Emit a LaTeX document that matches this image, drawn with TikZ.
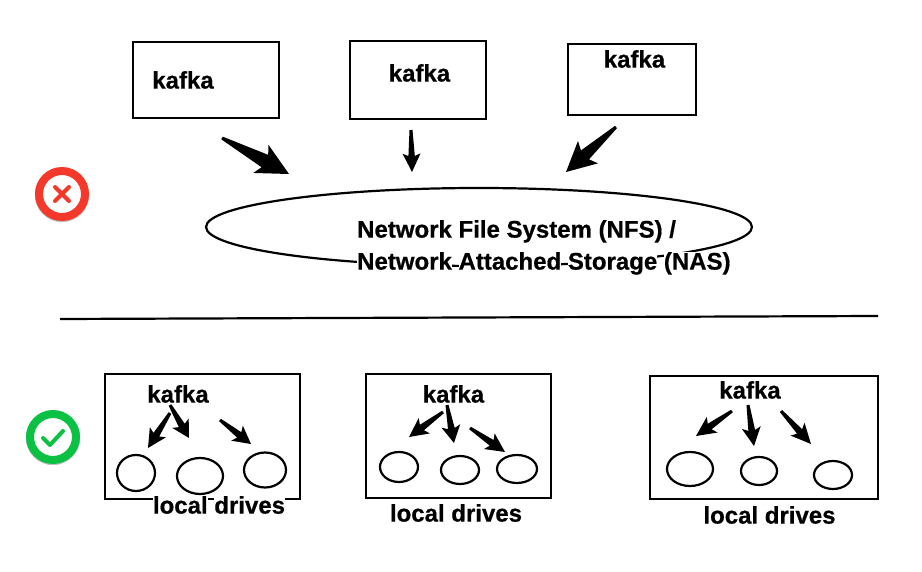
\documentclass[tikz,border=0pt]{standalone}
\usepackage{fontspec}
\setmainfont{Liberation Sans}[BoldFeatures={FakeBold=0.6}]
\usetikzlibrary{calc,shapes.geometric}
\setlength{\fboxsep}{0pt}
\newcommand{\hw}[1]{\colorbox{white}{#1}}
\newcommand{\tarrow}[6]{% tail, tip, barb fraction, barb half width, notch fraction, shaft half width
  \fill[black] ($(#1)!1.5pt!90:(#2)$)
    -- ($(#1)!#5!(#2)!#6pt!90:(#2)$)
    -- ($(#1)!#3!(#2)!#4pt!90:(#2)$)
    -- (#2)
    -- ($(#1)!#3!(#2)!#4pt!-90:(#2)$)
    -- ($(#1)!#5!(#2)!#6pt!-90:(#2)$)
    -- ($(#1)!1.5pt!-90:(#2)$) -- cycle;}
\tikzset{
  x=1pt,y=-1pt,
  boxnode/.style={draw=black,line width=2.4pt,fill=none,inner sep=0pt,minimum width=#1},
  drive/.style={draw=black,line width=2.2pt,ellipse,inner sep=0pt},
  lab/.style={font=\fontsize{24}{32}\selectfont\bfseries,inner sep=0pt,text=black},
  ringnode/.style={circle,inner sep=0pt,minimum size=46pt,line width=8pt,fill=white},
  shade/.style={circle,fill=black!25,draw=white,line width=1.5pt,inner sep=0pt,minimum size=55pt}
}
\begin{document}
\begin{tikzpicture}
\useasboundingbox (0,0) rectangle (922,572);
% top boxes
\node[boxnode=146pt,minimum height=76pt] (t1) at (206,80) {};
\node[boxnode=136pt,minimum height=78pt] (t2) at (418,80) {};
\node[boxnode=128pt,minimum height=71pt] (t3) at (632,79.5) {};
\node[lab] (tk1) at (183,80) {kafka};
\node[lab] (tk2) at (419.5,73) {kafka};
\node[lab] (tk3) at (634.5,59) {kafka};
% NFS ellipse
\node[draw=black,line width=2.2pt,ellipse,minimum width=546pt,minimum height=78pt,inner sep=0pt] (nfs) at (479,227) {};
\node[lab,align=left,anchor=north west] (nfstext) at (357,220)
  {\hw{Network} \hw{File} \hw{System} \hw{(NFS)} \hw{/}\\\hw{Network} \hw{Attached} \hw{Storage} \hw{(NAS)}};
% top arrows
\coordinate (a1s) at (222,138); \coordinate (a1e) at (289,174);
\coordinate (a2s) at (411,130); \coordinate (a2e) at (412,172);
\coordinate (a3s) at (616,127); \coordinate (a3e) at (566,172);
\tarrow{a1s}{a1e}{.58}{16}{.64}{7}
\tarrow{a2s}{a2e}{.56}{9}{.62}{3.2}
\tarrow{a3s}{a3e}{.56}{15}{.62}{6}
% divider
\coordinate (d1) at (60,319); \coordinate (d2) at (878,316);
\draw[line width=2.2pt] (d1) -- (d2);
% icons
\node[shade,minimum size=56pt] (xs) at (62,195) {};
\node[ringnode,draw={rgb,255:red,244;green,57;blue,42}] (xi) at (62,194) {};
\coordinate (x1) at (55,187); \coordinate (x2) at (69,201);
\coordinate (x3) at (69,187); \coordinate (x4) at (55,201);
\draw[line width=4pt,line cap=round,color={rgb,255:red,244;green,57;blue,42}] (x1) -- (x2) (x3) -- (x4);
\node[shade,minimum size=56pt] (cs) at (53,438) {};
\node[ringnode,draw={rgb,255:red,11;green,193;blue,67}] (ci) at (53,437) {};
\coordinate (c1) at (43,438); \coordinate (c2) at (50,445); \coordinate (c3) at (63,431);
\draw[line width=4pt,line cap=round,line join=round,color={rgb,255:red,11;green,193;blue,67}] (c1) -- (c2) -- (c3);
% bottom boxes
\node[boxnode=195pt,minimum height=125pt] (b1) at (202.5,436.5) {};
\node[boxnode=185pt,minimum height=124pt] (b2) at (458.5,436) {};
\node[boxnode=228pt,minimum height=123pt] (b3) at (764,437.5) {};
% drives
\node[drive,minimum width=38pt,minimum height=36pt] (d11) at (136,473) {};
\node[drive,minimum width=46pt,minimum height=36pt] (d12) at (200,476) {};
\node[drive,minimum width=42pt,minimum height=35pt] (d13) at (265,470) {};
\node[drive,minimum width=38pt,minimum height=30pt] (d21) at (399,467) {};
\node[drive,minimum width=38pt,minimum height=28pt] (d22) at (460,470) {};
\node[drive,minimum width=40pt,minimum height=28pt] (d23) at (517,469) {};
\node[drive,minimum width=46pt,minimum height=34pt] (d31) at (690,469) {};
\node[drive,minimum width=36pt,minimum height=28pt] (d32) at (759,471) {};
\node[drive,minimum width=38pt,minimum height=28pt] (d33) at (833,475) {};
% small arrows
\coordinate (s1) at (170,413); \coordinate (e1) at (148,448);
\coordinate (s2) at (170,405); \coordinate (e2) at (189,438);
\coordinate (s3) at (220,420); \coordinate (e3) at (251,444);
\coordinate (s4) at (443,412); \coordinate (e4) at (409,437);
\coordinate (s5) at (447,405); \coordinate (e5) at (454,443);
\coordinate (s6) at (470,428); \coordinate (e6) at (505,452);
\coordinate (s7) at (732,411); \coordinate (e7) at (696,436);
\coordinate (s8) at (748,405); \coordinate (e8) at (754,446);
\coordinate (s9) at (781,411); \coordinate (e9) at (811,444);
\foreach \i in {1,...,9}{\tarrow{s\i}{e\i}{.55}{9.5}{.62}{3.4}}
% bottom labels
\node[lab] (k1) at (178,394) {kafka};
\node[lab] (k2) at (453.5,394) {kafka};
\node[lab] (k3) at (750,390) {kafka};
\node[lab] (l1) at (219,505) {\hw{local} \hw{drives}};
\node[lab] (l2) at (456,513) {local drives};
\node[lab] (l3) at (769.5,515) {local drives};
\end{tikzpicture}
\end{document}
